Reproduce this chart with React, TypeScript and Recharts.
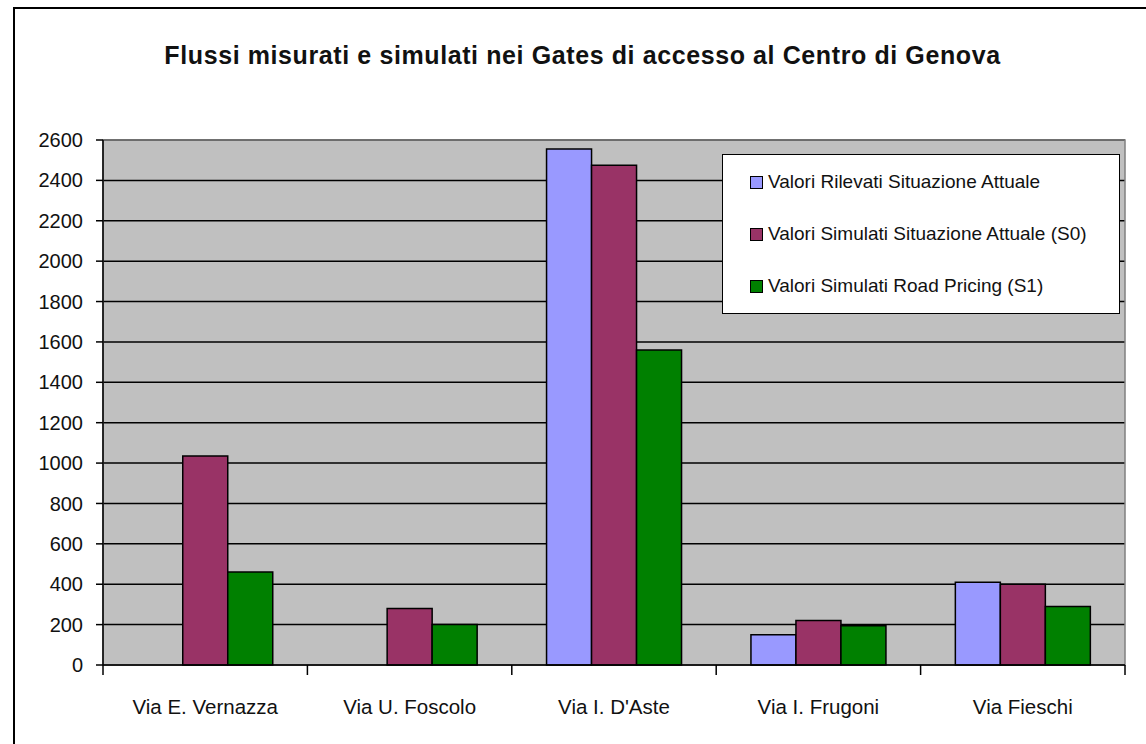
import {
  BarChart,
  Bar,
  XAxis,
  YAxis,
  CartesianGrid,
  Legend,
  ReferenceArea
} from 'recharts'

const TITLE = 'Flussi misurati e simulati nei Gates di accesso al Centro di Genova'

const gates = ['Via E. Vernazza', 'Via U. Foscolo', "Via I. D'Aste", 'Via I. Frugoni', 'Via Fieschi']
const rilevatiAttuale = [null, null, 2555, 150, 410]
const simulatiS0 = [1035, 280, 2475, 220, 400]
const simulatiS1 = [460, 200, 1560, 195, 290]

const yTicks = [0, 200, 400, 600, 800, 1000, 1200, 1400, 1600, 1800, 2000, 2200, 2400, 2600]

const SERIES = [
  { key: 'rilevati', label: 'Valori Rilevati Situazione Attuale', color: '#9999FF' },
  { key: 's0', label: 'Valori Simulati Situazione Attuale (S0)', color: '#993366' },
  { key: 's1', label: 'Valori Simulati Road Pricing (S1)', color: '#008000' }
]

const data = gates.map((g, i) => ({
  gate: g,
  rilevati: rilevatiAttuale[i],
  s0: simulatiS0[i],
  s1: simulatiS1[i]
}))

const FONT = '"Liberation Sans", Arial, sans-serif'
const X_TICK_MARGIN = 34

// excel style: tick marks sit between the categories, label in the middle
function GateTick(props: any) {
  const { x, y, payload, index, width } = props
  const band = (Number(width) || 0) / gates.length
  const top = y - X_TICK_MARGIN
  return (
    <g>
      <line x1={x - band / 2} x2={x - band / 2} y1={top} y2={top + 10} stroke="#000" strokeWidth={1.5} />
      {index === gates.length - 1 && (
        <line x1={x + band / 2} x2={x + band / 2} y1={top} y2={top + 10} stroke="#000" strokeWidth={1.5} />
      )}
      <text x={x} y={y} dy="0.71em" textAnchor="middle" fill="#111" fontSize={20.5} fontFamily={FONT}>
        {payload.value}
      </text>
    </g>
  )
}

// legend keeps the series order (recharts sorts payload by name otherwise)
function LegendBox() {
  return (
    <div
      style={{
        boxSizing: 'border-box',
        width: '100%',
        height: '100%',
        background: '#fff',
        border: '1.5px solid #000',
        paddingTop: 1,
        paddingLeft: 27
      }}
    >
      {SERIES.map(s => (
        <div key={s.key} style={{ display: 'flex', alignItems: 'center', height: 52, fontSize: 19, color: '#111' }}>
          <span
            style={{
              display: 'inline-block',
              width: 11,
              height: 11,
              background: s.color,
              border: '1px solid #000',
              marginRight: 5
            }}
          />
          {s.label}
        </div>
      ))}
    </div>
  )
}

export default function App() {
  return (
    <div style={{ position: 'relative', width: 1146, height: 744, fontFamily: FONT, background: '#fff' }}>
      <style>{'body{margin:0;overflow:hidden}'}</style>
      <div
        style={{
          position: 'absolute',
          left: 13,
          top: 7,
          width: 1140,
          height: 800,
          borderTop: '2px solid #000',
          borderLeft: '2px solid #000'
        }}
      />
      <div
        style={{
          position: 'absolute',
          left: 0,
          width: 1165,
          top: 41,
          textAlign: 'center',
          fontWeight: 'bold',
          fontSize: 25,
          letterSpacing: 0.6,
          color: '#111'
        }}
      >
        {TITLE}
      </div>
      <div style={{ position: 'absolute', left: 0, top: 0 }}>
        <BarChart
          width={1146}
          height={744}
          data={data}
          margin={{ top: 140, right: 21, bottom: 0, left: 13 }}
          barCategoryGap="17%"
          barGap={0}
        >
          <CartesianGrid vertical={false} fill="#C0C0C0" stroke="#000" strokeWidth={1.5} />
          <ReferenceArea y1={0} y2={2600} fill="none" stroke="#808080" strokeWidth={1.5} />
          <XAxis
            dataKey="gate"
            height={79}
            axisLine={{ stroke: '#000', strokeWidth: 1.5 }}
            tickLine={false}
            tickSize={0}
            tickMargin={X_TICK_MARGIN}
            interval={0}
            tick={<GateTick />}
          />
          <YAxis
            domain={[0, 2600]}
            ticks={yTicks}
            width={90}
            tickSize={7}
            tickMargin={13}
            stroke="#000"
            strokeWidth={1.5}
            tick={{ fill: '#111', fontSize: 20, fontFamily: FONT }}
          />
          <Legend
            layout="vertical"
            align="center"
            verticalAlign="middle"
            content={<LegendBox />}
            wrapperStyle={{ left: 722, top: 154, width: 398, height: 160 }}
          />
          {SERIES.map(s => (
            <Bar
              key={s.key}
              dataKey={s.key}
              name={s.label}
              fill={s.color}
              stroke="#000"
              strokeWidth={1.5}
              isAnimationActive={false}
            />
          ))}
        </BarChart>
      </div>
    </div>
  )
}
